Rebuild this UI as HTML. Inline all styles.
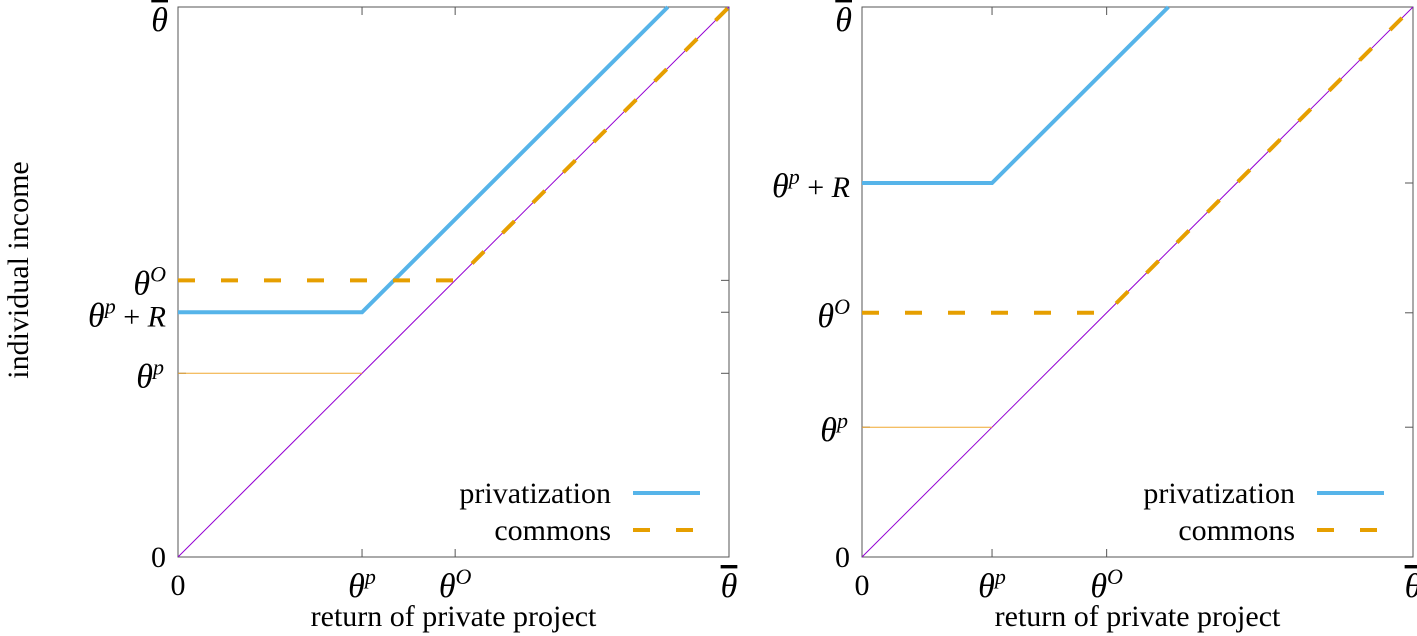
<!DOCTYPE html>
<html><head><meta charset="utf-8"><style>
body{margin:0;background:#fff}
svg{display:block;font-family:"Liberation Serif",serif}
</style></head><body>
<svg id="c" width="1417" height="636"></svg>
<script>
// panel data (fractions of theta-bar)
const panelNames = ["left-panel","right-panel"];
const thetaP = [0.334, 0.236];
const thetaO = [0.503, 0.444];
const thetaPR = [0.445, 0.68];
const panelX = [178, 862];
const W = 551, TOP = 7, BOT = 557;
const legendLabels = ["privatization","commons"];
const NS = "http://www.w3.org/2000/svg";
const svg = document.getElementById('c');
function el(tag, attrs, parent){const e=document.createElementNS(NS,tag);for(const k in attrs)e.setAttribute(k,attrs[k]);(parent||svg).appendChild(e);return e;}
function txt(parent, x, y, html, anchor, size){const t=el('text',{x:x,y:y,'text-anchor':anchor||'middle','font-size':size||30},parent);t.innerHTML=html;return t;}
const TH='<tspan font-style="italic" font-size="34">θ</tspan>';
function sup(s){return '<tspan font-size="22" dy="-13" font-style="italic">'+s+'</tspan>';}
const THB='<tspan font-style="italic" font-size="34" text-decoration="overline">θ</tspan>';

panelNames.forEach((name,i)=>{
  const x0=panelX[i];
  const sx=v=>x0+v*W, sy=v=>BOT-v*(BOT-TOP);
  const g=el('g',{});
  
  
  const fr=el('rect',{x:x0,y:TOP,width:W,height:BOT-TOP,fill:'none',stroke:'#555','stroke-width':1},g);
  
  [thetaP[i],thetaO[i]].forEach(v=>{
    el('line',{x1:sx(v),x2:sx(v),y1:BOT,y2:BOT-8,stroke:'#555'},g);
    el('line',{x1:sx(v),x2:sx(v),y1:TOP,y2:TOP+8,stroke:'#555'},g);
  });
  [thetaP[i],thetaPR[i],thetaO[i]].forEach(v=>{
    el('line',{x1:x0,x2:x0+8,y1:sy(v),y2:sy(v),stroke:'#555'},g);
    el('line',{x1:x0+W,x2:x0+W-8,y1:sy(v),y2:sy(v),stroke:'#555'},g);
  });
  const xl=[txt(g,sx(0),595,'0'),txt(g,sx(thetaP[i]),597,TH+sup('p')),txt(g,sx(thetaO[i]),597,TH+sup('O')),txt(g,sx(1),597,THB)];
  xl.forEach(t=>{});
  const yl=[txt(g,x0-12,sy(0)+10,'0','end'),txt(g,x0-14,sy(thetaP[i])+14,TH+sup('p'),'end'),
    txt(g,x0-12,sy(thetaPR[i])+14,TH+sup('p')+'<tspan dy="13"> + </tspan><tspan font-style="italic">R</tspan>','end'),
    txt(g,x0-12,sy(thetaO[i])+14,TH+sup('O'),'end'),txt(g,x0-10,sy(1)+24,THB,'end')];
  yl.forEach(t=>{});
  const xt=txt(g,x0+W/2,626,'return of private project');
  
  const d=el('line',{x1:sx(0),y1:sy(0),x2:sx(1),y2:sy(1),stroke:'#9400d3','stroke-width':1},g);
  
  const tp=el('line',{x1:sx(0),y1:sy(thetaP[i]),x2:sx(thetaP[i]),y2:sy(thetaP[i]),stroke:'#f0a830','stroke-width':1},g);
  
  const R=thetaPR[i]-thetaP[i];
  const pv=el('polyline',{points:[sx(0),sy(thetaPR[i]),sx(thetaP[i]),sy(thetaPR[i]),sx(1-R),sy(1)].join(' '),fill:'none',stroke:'#56b4e9','stroke-width':4},g);
  
  const cm=el('polyline',{points:[sx(0),sy(thetaO[i]),sx(thetaO[i]),sy(thetaO[i]),sx(1),sy(1)].join(' '),fill:'none',stroke:'#e69f00','stroke-width':4,'stroke-dasharray':'17 26'},g);
  
  const lg=el('g',{},g);
  
  const l1=txt(lg,x0+W-118,503,legendLabels[0],'end');
  
  el('line',{x1:x0+W-96,x2:x0+W-29,y1:493,y2:493,stroke:'#56b4e9','stroke-width':4},lg);
  const l2=txt(lg,x0+W-118,540,legendLabels[1],'end');
  
  el('line',{x1:x0+W-96,x2:x0+W-29,y1:530,y2:530,stroke:'#e69f00','stroke-width':4,'stroke-dasharray':'17 26'},lg);
});
const yt=txt(svg,0,0,'individual income');
yt.setAttribute('transform','translate(28,270) rotate(-90)');


</script>
</body></html>
